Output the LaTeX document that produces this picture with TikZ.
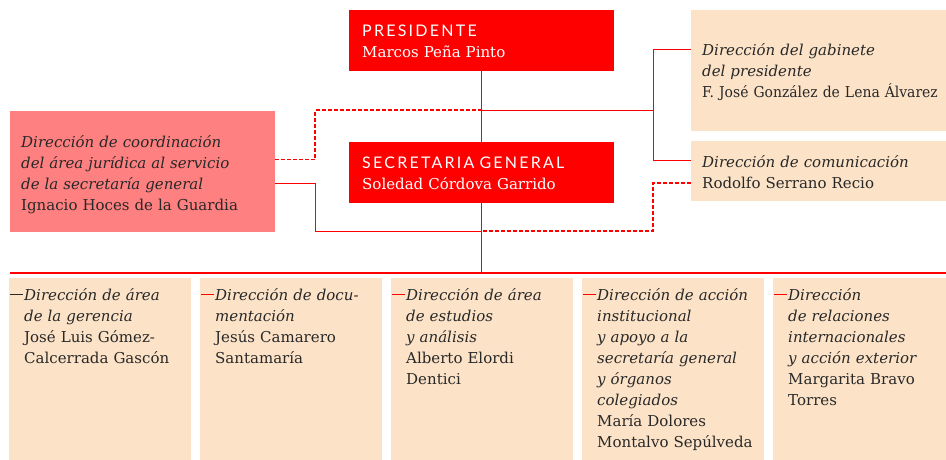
\documentclass[tikz,border=0pt]{standalone}
\usepackage{fontspec}
\setmainfont{DejaVu Serif}
\newfontfamily\headfont[LetterSpace=14]{Lato}
\newfontfamily\narrowserif[FakeStretch=0.93]{DejaVu Serif}
\usetikzlibrary{positioning}
\definecolor{orgred}{RGB}{255,0,0}
\definecolor{orgpink}{RGB}{255,128,128}
\definecolor{orgpeach}{RGB}{252,227,200}
\definecolor{orgtext}{RGB}{40,40,40}
\newcommand{\reddash}{\llap{\textcolor{orgred}{\rule[5pt]{13pt}{0.9pt}}\kern1pt}}
\newcommand{\darkdash}{\llap{\textcolor{orgtext}{\rule[5pt]{13pt}{0.9pt}}\kern1pt}}

\begin{document}
\begin{tikzpicture}[x=1pt, y=-1pt, node distance=9pt,
    box/.style={anchor=north west, inner sep=0pt, outer sep=0pt},
    topbox/.style={box, fill=orgred, minimum width=265pt, minimum height=61pt},
    sidebox/.style={box, fill=orgpeach, minimum width=260pt},
    lowbox/.style={box, fill=orgpeach, minimum width=182pt, minimum height=190pt},
    txt/.style={anchor=base west, inner sep=0pt, text width=300pt, align=left,
        text=orgtext, font=\fontsize{15}{21}\selectfont},
    head/.style={txt, text=white},
    line/.style={draw=orgred, line width=0.9pt},
    dashline/.style={line, line width=1.2pt, dash pattern=on 4pt off 2pt}]
    \useasboundingbox (0,0) rectangle (946,460);

    \node[topbox] (pres) at (349,10) {};
    \node[topbox] (sec) at (349,142) {};
    \node[box, fill=orgpink, minimum width=265pt, minimum height=121pt] (coord) at (10,111) {};
    \node[sidebox, minimum height=121pt] (gab) at (691,10) {};
    \node[sidebox, minimum height=60pt] (com) at (691,141) {};

    \node[head] (pres-t) at (362,37) {{\headfont\fontsize{16}{21}\selectfont PRESIDENTE}\\Marcos Peña Pinto};
    \node[head] (sec-t) at (362,168) {{\headfont\fontsize{16}{21}\selectfont SECRETARIA GENERAL}\\Soledad Córdova Garrido};
    \node[txt] (coord-t) at (21,147) {\textit{Dirección de coordinación}\\\textit{del área jurídica al servicio}\\\textit{de la secretaría general}\\Ignacio Hoces de la Guardia};
    \node[txt] (gab-t) at (702,56) {\textit{Dirección del gabinete}\\\textit{del presidente}\\{\narrowserif F. José González de Lena Álvarez}};
    \node[txt] (com-t) at (702,167) {\textit{Dirección de comunicación}\\Rodolfo Serrano Recio};

    \node[lowbox] (d1) at (9,278) {};
    \node[lowbox, right=of d1] (d2) {};
    \node[lowbox, right=of d2] (d3) {};
    \node[lowbox, right=of d3] (d4) {};
    \node[lowbox, right=of d4] (d5) {};

    \node[txt] (d1-t) at (24,300) {\darkdash\textit{Dirección de área}\\\textit{de la gerencia}\\José Luis Gómez-\\Calcerrada Gascón};
    \node[txt] (d2-t) at (215,300) {\reddash\textit{Dirección de docu-}\\\textit{mentación}\\Jesús Camarero\\Santamaría};
    \node[txt] (d3-t) at (406,300) {\reddash\textit{Dirección de área}\\\textit{de estudios}\\\textit{y análisis}\\Alberto Elordi\\Dentici};
    \node[txt] (d4-t) at (597,300) {\reddash\textit{Dirección de acción}\\\textit{institucional}\\\textit{y apoyo a la}\\\textit{secretaría general}\\\textit{y órganos}\\\textit{colegiados}\\María Dolores\\Montalvo Sepúlveda};
    \node[txt] (d5-t) at (788,300) {\reddash\textit{Dirección}\\\textit{de relaciones}\\\textit{internacionales}\\\textit{y acción exterior}\\Margarita Bravo\\Torres};

    \coordinate (hub) at (482,110);
    \coordinate (fork) at (653,110);
    \coordinate (low) at (482,231);
    \coordinate (barL) at (10,273);
    \coordinate (barR) at (946,273);

    \draw[line] (pres.south) -- (sec.north);
    \draw[line] (sec.south) -- (sec.south |- barL);
    \draw[draw=orgred, line width=1.4pt] (barL) -- (barR);
    \draw[line] (hub) -- (fork);
    \draw[line] (fork) |- ([yshift=21.5pt]gab.west);
    \draw[line] (fork) |- ([yshift=11pt]com.west);
    \draw[dashline] ([yshift=12pt]coord.east) -- ++(40,0) |- (hub);
    \draw[line] ([yshift=-12pt]coord.east) -- ++(40,0) |- (low);
    \draw[dashline] ([yshift=-12pt]com.west) -- ++(-38,0) |- (low);
\end{tikzpicture}
\end{document}
